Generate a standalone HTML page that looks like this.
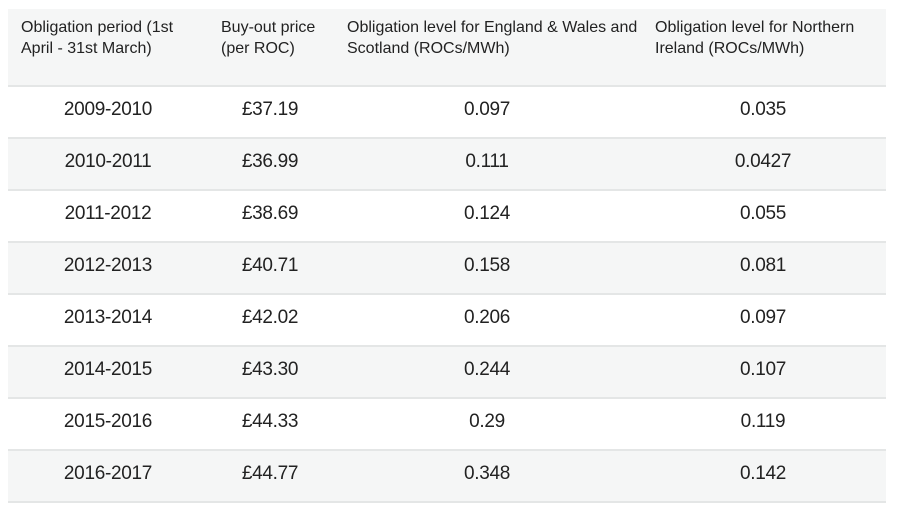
<!DOCTYPE html>
<html><head><meta charset="utf-8"><style>
body{margin:0;width:918px;height:510px;background:#fff;font-family:"Liberation Sans",sans-serif;overflow:hidden;position:relative}
.hdr{position:absolute;left:8px;top:9px;width:878px;height:76px;background:#f5f6f6}
.h{position:absolute;top:8px;font-size:16px;line-height:21px;color:#222}
.row{position:absolute;left:8px;width:878px;height:50px;border-top:2px solid #e4e6e6}
.row.g{background:#f5f6f6}
.c{position:absolute;top:12px;font-size:19px;color:#222;text-align:center;transform:translateX(-50%);white-space:nowrap;letter-spacing:-0.3px}
</style></head><body>
<div class="hdr">
<div class="h" style="left:13px">Obligation period (1st<br>April - 31st March)</div>
<div class="h" style="left:213px">Buy-out price<br>(per ROC)</div>
<div class="h" style="left:339px">Obligation level for England &amp; Wales and<br>Scotland (ROCs/MWh)</div>
<div class="h" style="left:647px">Obligation level for Northern<br>Ireland (ROCs/MWh)</div>
</div>
<div id="rows"></div>
<div style="position:absolute;left:8px;top:501px;width:878px;height:2px;background:#e4e6e6"></div>
<script>
const periods=["2009-2010","2010-2011","2011-2012","2012-2013","2013-2014","2014-2015","2015-2016","2016-2017"];
const prices=["£37.19","£36.99","£38.69","£40.71","£42.02","£43.30","£44.33","£44.77"];
const ews=["0.097","0.111","0.124","0.158","0.206","0.244","0.29","0.348"];
const ni=["0.035","0.0427","0.055","0.081","0.097","0.107","0.119","0.142"];
const host=document.getElementById('rows');
const cx=[100,262,479,755];
periods.forEach((p,i)=>{
  const r=document.createElement('div');
  r.className='row'+(i%2?' g':'');
  r.style.top=(85+i*52)+'px';
  
  
  [p,prices[i],ews[i],ni[i]].forEach((v,j)=>{
    const c=document.createElement('div');
    c.className='c';c.style.left=cx[j]+'px';c.textContent=v;
    
    
    r.appendChild(c);
  });
  host.appendChild(r);
});
</script>
</body></html>
